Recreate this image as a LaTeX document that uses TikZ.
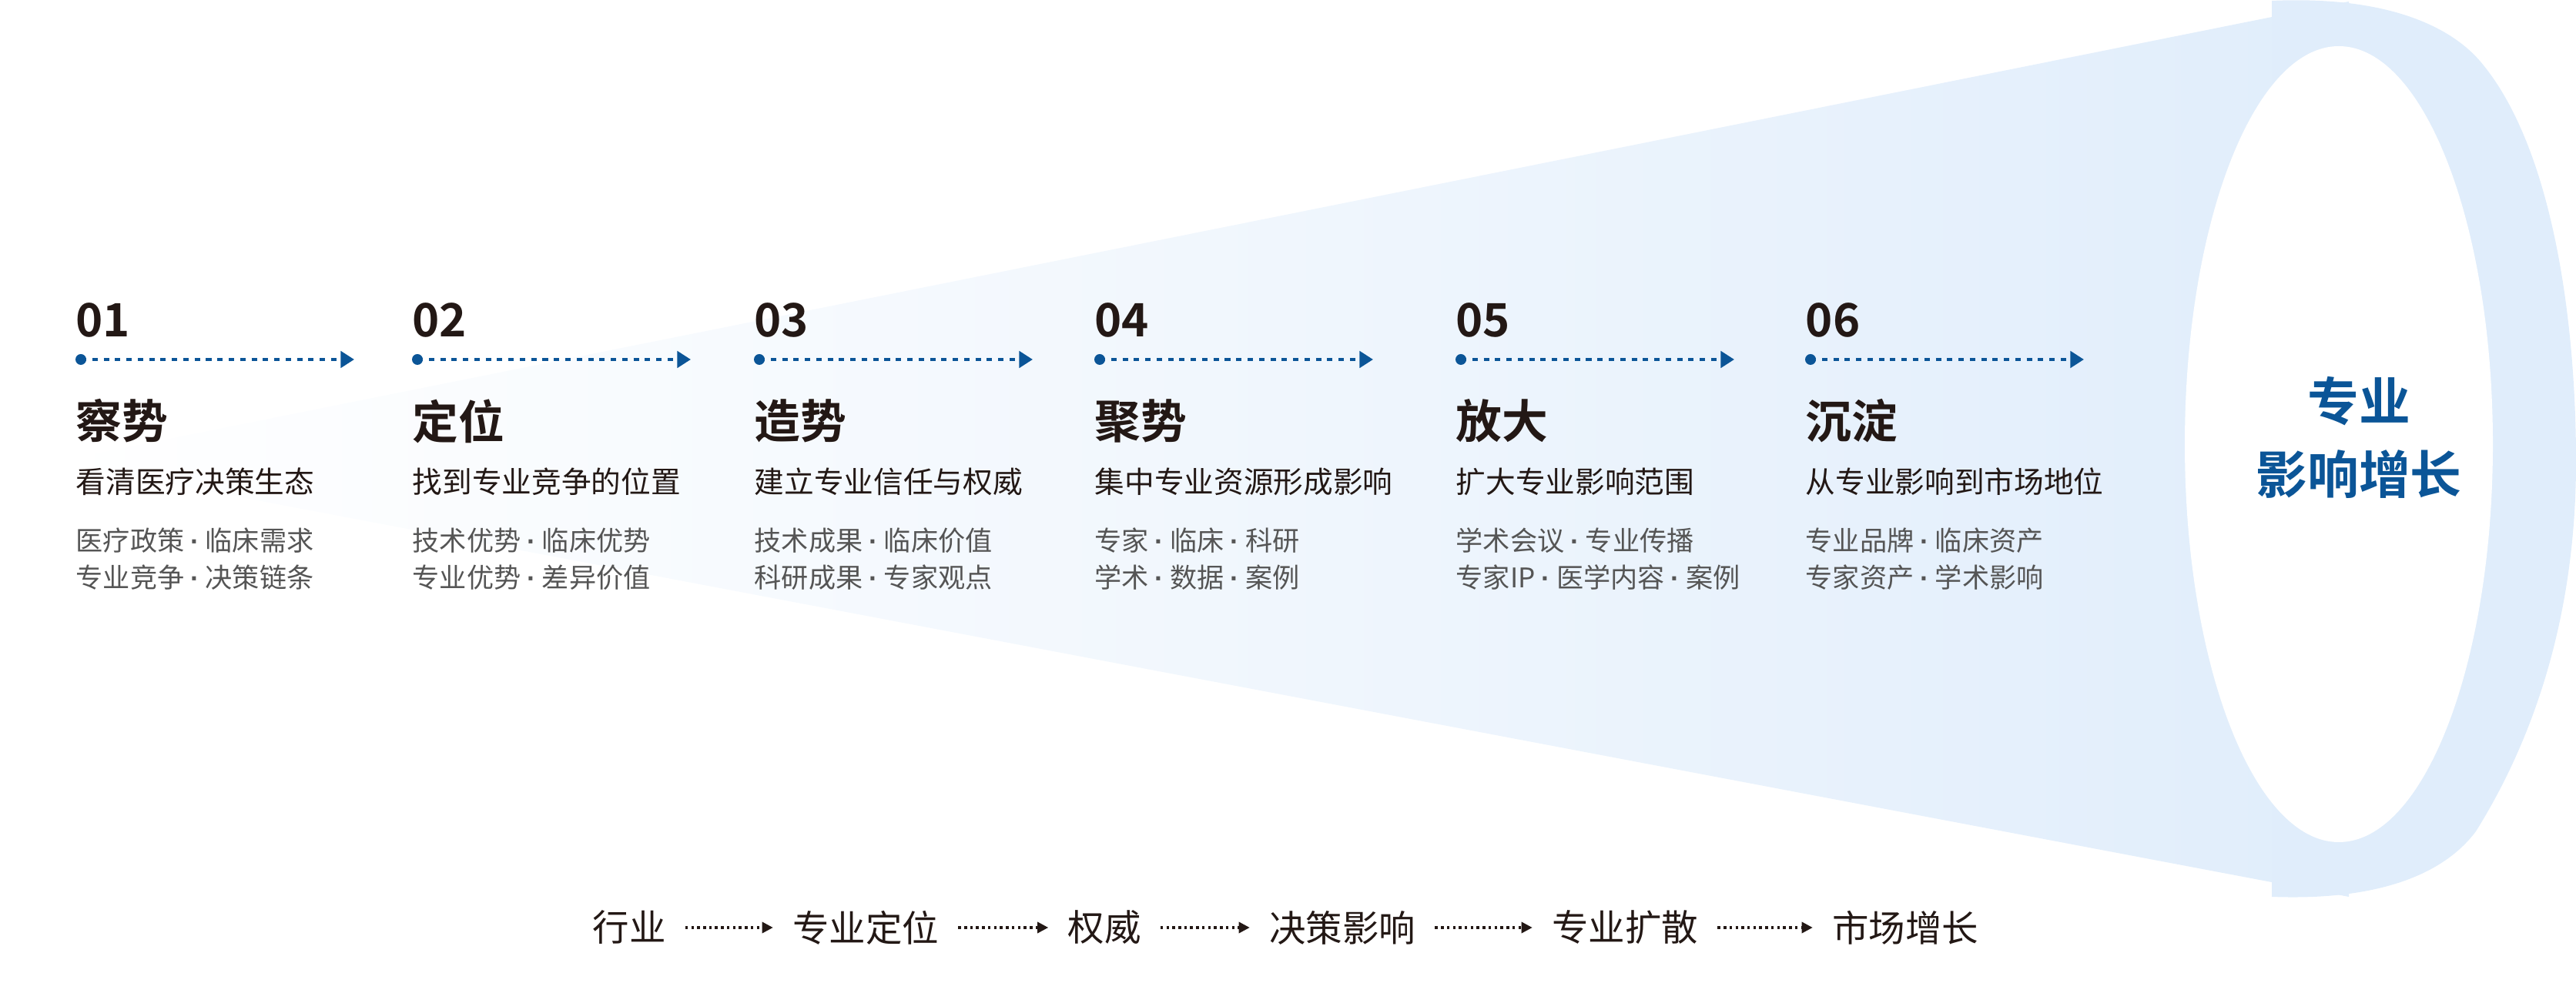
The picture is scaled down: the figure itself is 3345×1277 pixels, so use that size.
\documentclass[tikz,border=0pt]{standalone}
\usepackage{fontspec}
\setmainfont{Noto Sans CJK SC}
\newfontfamily\cjkb{Noto Sans CJK SC Bold}
\newfontfamily\latinsans{Liberation Sans}
\usetikzlibrary{positioning,arrows.meta}
\definecolor{deepblue}{HTML}{0B5597}
\definecolor{paleblue}{HTML}{E0EDFB}
\definecolor{inkdark}{HTML}{231815}
\definecolor{inkgray}{HTML}{555555}
\newcommand{\sep}{ {\latinsans\textbf{·}} }
\tikzset{
  num/.style={anchor=west,inner sep=0pt,font=\cjkb\fontsize{17}{17}\selectfont,text=inkdark},
  ttl/.style={anchor=west,inner sep=0pt,font=\cjkb\fontsize{17}{17}\selectfont,text=inkdark},
  sub/.style={anchor=west,inner sep=0pt,font=\fontsize{11}{11}\selectfont,text=inkdark},
  det/.style={anchor=west,inner sep=0pt,font=\fontsize{10}{13.5}\selectfont,text=inkgray,align=left},
  flow/.style={inner sep=0pt,font=\fontsize{13.5}{13.5}\selectfont,text=inkdark},
  dotline/.style={deepblue,line width=1.3pt,dash pattern=on 2pt off 2.2pt,-{Triangle[length=5pt,width=6pt]}},
  smallflow/.style={inkdark,line width=0.9pt,dash pattern=on 1pt off 1.2pt,-{Triangle[length=4pt,width=4pt]}}
}
\begin{document}
\begin{tikzpicture}[x=0.01cm,y=-0.01cm]
\useasboundingbox (0,0) rectangle (3345,1277);
% funnel
\shade[left color=white,right color=paleblue,middle color=paleblue!45]
  (70,600) -- (3050,2) -- (3050,1165) -- cycle;
\fill[paleblue] (2950,1) .. controls (3110,-6) and (3190,40) .. (3225,85)
  .. controls (3310,190) and (3345,400) .. (3345,600)
  .. controls (3345,800) and (3290,960) .. (3215,1080)
  .. controls (3170,1140) and (3080,1170) .. (2950,1165) -- cycle;
\fill[white] (3037,577) ellipse [x radius=200,y radius=517];
\node[font=\cjkb\fontsize{19}{27}\selectfont,text=deepblue,align=center] (goal) at (3063,568) {专业\\影响增长};
% stages
\foreach \x/\n/\t/\s/\a/\b [count=\i] in {
  98/01/察势/看清医疗决策生态/医疗政策\sep 临床需求/专业竞争\sep 决策链条,
  535/02/定位/找到专业竞争的位置/技术优势\sep 临床优势/专业优势\sep 差异价值,
  979/03/造势/建立专业信任与权威/技术成果\sep 临床价值/科研成果\sep 专家观点,
  1421/04/聚势/集中专业资源形成影响/专家\sep 临床\sep 科研/学术\sep 数据\sep 案例,
  1890/05/放大/扩大专业影响范围/学术会议\sep 专业传播/专家IP\sep 医学内容\sep 案例,
  2344/06/沉淀/从专业影响到市场地位/专业品牌\sep 临床资产/专家资产\sep 学术影响}{
  \node[num] (num\i) at (\x,416) {\n};
  \coordinate (dot\i) at (\x+7,467);
  \coordinate (tip\i) at (\x+362,467);
  \fill[deepblue] (dot\i) circle (7);
  \draw[dotline] (dot\i) -- (tip\i);
  \node[ttl] (ttl\i) at (\x,547) {\t};
  \node[sub] (sub\i) at (\x,626) {\s};
  \node[det] (det\i) at (\x,726) {\a\\\b};
}
% bottom flow
\node[flow] (f1) at (817,1205) {行业};
\node[flow] (f2) at (1124,1205) {专业定位};
\node[flow] (f3) at (1434,1205) {权威};
\node[flow] (f4) at (1743,1205) {决策影响};
\node[flow] (f5) at (2110,1205) {专业扩散};
\node[flow] (f6) at (2474,1205) {市场增长};
\foreach \p/\q in {f1/f2,f2/f3,f3/f4,f4/f5,f5/f6}
  \draw[smallflow] ([xshift=7pt]\p.east) -- ([xshift=-7pt]\q.west);
\end{tikzpicture}
\end{document}
